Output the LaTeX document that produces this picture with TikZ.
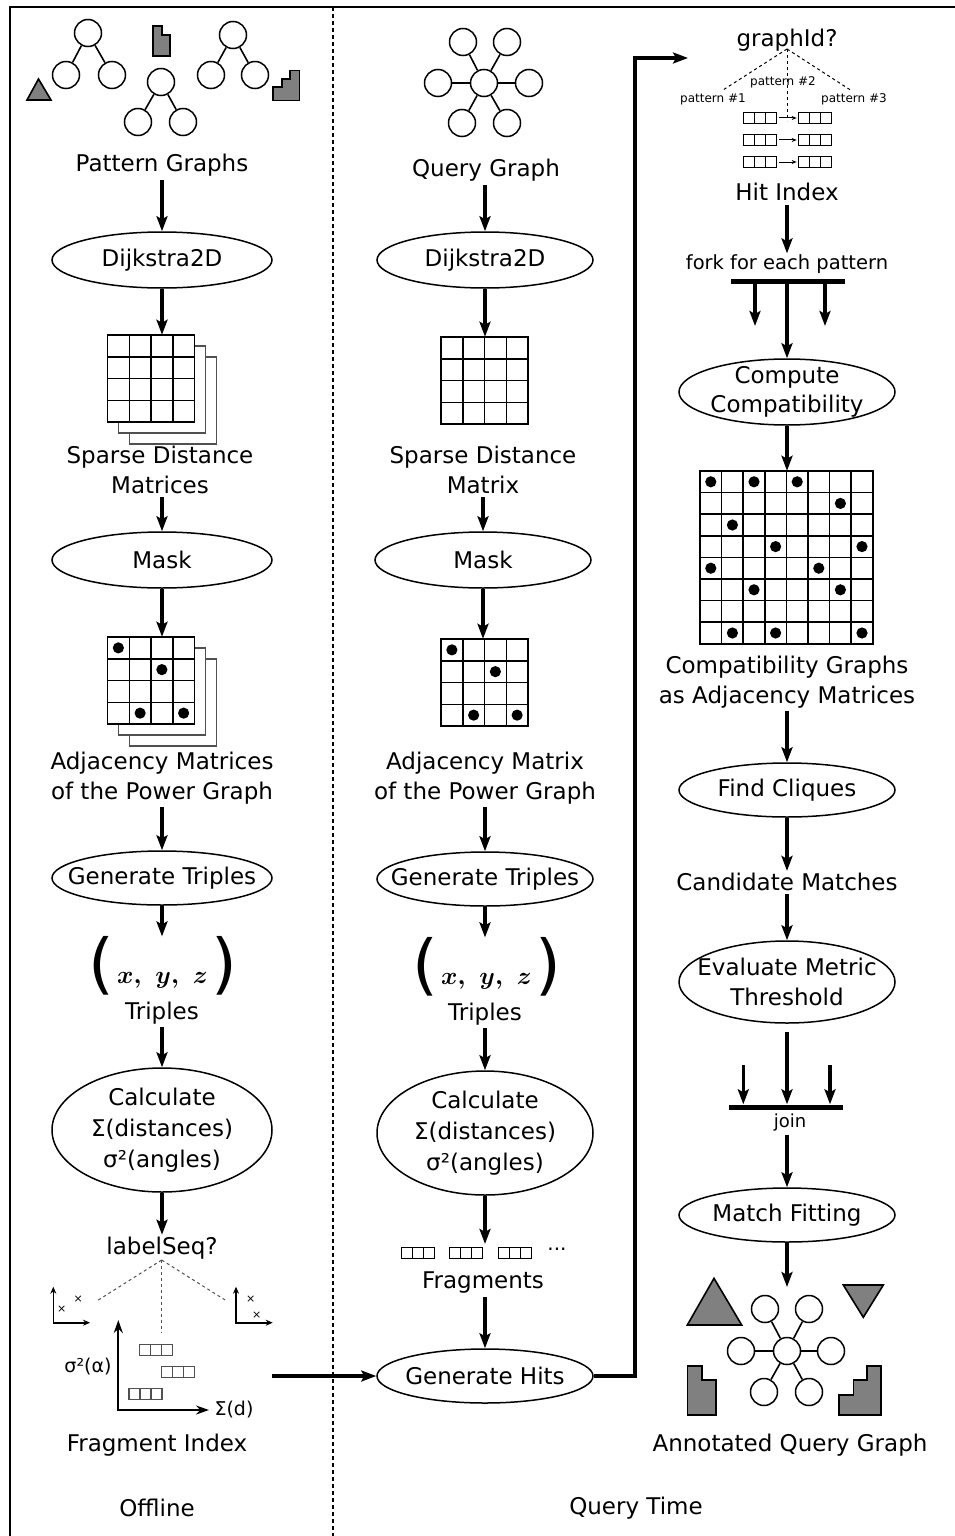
\documentclass[tikz,border=0pt]{standalone}
\usepackage{fontspec}
\setmainfont{DejaVu Sans}
\usetikzlibrary{arrows.meta,shapes.geometric,calc}
\definecolor{shapegray}{RGB}{128,128,128}
\definecolor{stackgray}{RGB}{80,80,80}
\newcommand\drawgrid[4]{% x0, y0, n, cell
  \fill[white] (#1,#2) rectangle ++(#3*#4,#3*#4);
  \pgfmathtruncatemacro\gridm{#3-1}
  \foreach \kk in {1,...,\gridm}{
    \draw[line width=1.5pt] (#1+\kk*#4,#2) -- ++(0,#3*#4);
    \draw[line width=1.5pt] (#1,#2+\kk*#4) -- ++(#3*#4,0);
  }
  \draw[line width=1.8pt] (#1,#2) rectangle ++(#3*#4,#3*#4);
}
\newcommand\griddots[4]{% x0, y0, cell, list col/row
  \foreach \cc/\rr in {#4}{\fill (#1+\cc*#3+0.5*#3, #2+\rr*#3+0.5*#3) circle[radius=5.6pt];}
}
\tikzset{
  lab/.style={font=\fontsize{23}{29.5}\selectfont, align=center, inner sep=1pt},
  proc/.style={ellipse, draw, line width=1.5pt, minimum width=220pt, minimum height=56pt, inner sep=0pt},
  arr/.style={line width=3.2pt, -{Stealth[length=15pt,width=11pt,inset=3pt]}},
  vtx/.style={circle, draw, line width=1.5pt, minimum size=27pt, inner sep=0pt, fill=white},
  edg/.style={line width=1.6pt},
  shp/.style={draw, line width=1.6pt, fill=shapegray, line join=miter},
  tribox/.style={draw, line width=1.1pt, minimum width=33pt, minimum height=11pt, inner sep=0pt,
    path picture={\foreach \ff in {0.3333,0.6667}{\draw[line width=1.1pt]
      ($(path picture bounding box.north west)!\ff!(path picture bounding box.north east)$) --
      ($(path picture bounding box.south west)!\ff!(path picture bounding box.south east)$);}}},
  barnode/.style={fill=black, inner sep=0pt, minimum height=5pt},
  dsh/.style={line width=1pt, dash pattern=on 3pt off 3pt},
  smallarr/.style={line width=1pt, -{Stealth[length=5pt,width=4pt]}},
  gbox/.style={minimum size=87pt, inner sep=0pt},
  trip/.style={inner sep=0pt},
}
\newcommand\triples{{\fontsize{66}{66}\selectfont(}\hspace{3pt}\raisebox{3pt}{\fontsize{48}{48}\selectfont\boldmath$x,$\hspace{14pt}$y,$\hspace{14pt}$z$}\hspace{4pt}{\fontsize{66}{66}\selectfont)}}
\begin{document}
\begin{tikzpicture}[x=1pt,y=-1pt]
\useasboundingbox (0,0) rectangle (955,1536);
\clip (0,0) rectangle (955,1536);
% frame and divider
\draw[line width=2pt] (10,1536) -- (10,7) -- (955,7);
\draw[line width=2pt, dash pattern=on 4pt off 3pt] (333,7) -- (333,1536);
\node[lab] (offline) at (157,1508) {Offline};
\node[lab] (qtime) at (636,1508) {Query Time};

% ================= LEFT COLUMN =================
\node[vtx] (t1a) at (88,33) {};
\node[vtx] (t1b) at (66,75) {};
\node[vtx] (t1c) at (112,75) {};
\node[vtx] (t2a) at (161,82) {};
\node[vtx] (t2b) at (138,122) {};
\node[vtx] (t2c) at (183,122) {};
\node[vtx] (t3a) at (233,35) {};
\node[vtx] (t3b) at (211,75) {};
\node[vtx] (t3c) at (255,75) {};
\draw[edg] (t1a) -- (t1b) (t1a) -- (t1c) (t2a) -- (t2b) (t2a) -- (t2c) (t3a) -- (t3b) (t3a) -- (t3c);
\draw[shp] (27,100) -- (51,100) -- (38.5,79) -- cycle;
\draw[shp] (153,26) -- (162,26) -- (162,35) -- (170,35) -- (170,56) -- (153,56) -- cycle;
\draw[shp] (273,100.7) -- (273,87.3) -- (281.7,87.3) -- (281.7,79) -- (290,79) -- (290,70.7) -- (299.3,70.7) -- (299.3,100.7) -- cycle;
\node[lab] (pgL) at (162,165) {Pattern Graphs};

\node[proc] (dijL) at (162,260) {};
\node[lab] at (dijL) {Dijkstra2D};

% stacked distance matrices
\foreach \o in {22,11}{\draw[line width=1.5pt, stackgray, fill=white] (107.5+\o,335+\o) rectangle ++(87,87);}
\drawgrid{107.5}{335}{4}{21.75}
\node[gbox] (sdmL) at (151,378.5) {};
\node[lab] (sdmLt) at (160,470) {Sparse Distance\\Matrices};

\node[proc] (maskL) at (162,560) {};
\node[lab] at (maskL) {Mask};

\foreach \o in {22,11}{\draw[line width=1.5pt, stackgray, fill=white] (107.5+\o,637+\o) rectangle ++(87,87);}
\drawgrid{107.5}{637}{4}{21.75}
\griddots{107.5}{637}{21.75}{0/0,2/1,1/3,3/3}
\node[gbox] (amL) at (151,680.5) {};
\node[lab] (amLt) at (162,778) {Adjacency Matrices\\of the Power Graph};

\node[proc, minimum height=54pt] (gtL) at (162,878) {};
\node[lab] at (gtL) {Generate Triples};

\node[trip] (xyzL) at (163,966) {\triples};
\node[lab] (trL) at (162,1013) {Triples};

\node[proc, minimum height=124pt] (calcL) at (162,1130) {};
\node[lab, font=\fontsize{23}{31}\selectfont] at (calcL) {Calculate\\Σ(distances)\\σ²(angles)};

\node[lab] (lsL) at (162,1248) {labelSeq?};
% fragment index
\draw[dsh, stackgray] (161.7,1260) -- (96.7,1301);
\draw[dsh, stackgray] (161.7,1260) -- (226.7,1301);
\draw[dsh, stackgray] (161.7,1260) -- (161.7,1333);
\draw[line width=1.6pt, {Stealth[length=7pt,width=6pt]}-{Stealth[length=7pt,width=6pt]}] (53.3,1286.7) -- (53.3,1322.7) -- (90,1322.7);
\draw[line width=1.6pt, {Stealth[length=7pt,width=6pt]}-{Stealth[length=7pt,width=6pt]}] (236,1286.7) -- (236,1322.7) -- (272.7,1322.7);
\node[font=\fontsize{11}{11}\selectfont, inner sep=0pt] (cx1) at (78.3,1299) {×};
\node[font=\fontsize{11}{11}\selectfont, inner sep=0pt] (cx2) at (61.7,1309) {×};
\node[font=\fontsize{11}{11}\selectfont, inner sep=0pt] (cx3) at (250.7,1299) {×};
\node[font=\fontsize{11}{11}\selectfont, inner sep=0pt] (cx4) at (256.7,1315) {×};
\draw[line width=2.2pt, {Stealth[length=13pt,width=9pt]}-{Stealth[length=13pt,width=9pt]}] (118.3,1320) -- (118.3,1410) -- (209,1410);
\node[font=\fontsize{19}{19}\selectfont, inner sep=0pt] (sal) at (88,1367) {σ²(α)};
\node[font=\fontsize{19}{19}\selectfont, inner sep=0pt] (sdl) at (234,1410) {Σ(d)};
\node[tribox, stackgray] (fb1) at (156.3,1350.3) {};
\node[tribox, stackgray] (fb2) at (178,1372.2) {};
\node[tribox, stackgray] (fb3) at (145.5,1393.7) {};
\node[lab] (fiL) at (157,1445) {Fragment Index};
\coordinate (fiout) at (272,1376);

\draw[arr, shorten <=3pt] (pgL.south) -- (pgL.south |- dijL.north);
\draw[arr] (dijL.south) -- (dijL.south |- sdmL.north);
\draw[arr, shorten <=2pt] (maskL.north |- sdmLt.south) -- (maskL.north);
\draw[arr] (maskL.south) -- (maskL.south |- amL.north);
\draw[arr, shorten <=2pt] (gtL.north |- amLt.south) -- (gtL.north);
\draw[arr] (gtL.south) -- (gtL.south |- xyzL.north);
\draw[arr, shorten <=2pt] (calcL.north |- trL.south) -- (calcL.north);
\draw[arr, shorten >=1pt] (calcL.south) -- (calcL.south |- lsL.north);

% ================= MIDDLE COLUMN =================
\node[vtx] (qc) at (484,83) {};
\node[vtx] (q1) at (463,42) {};
\node[vtx] (q2) at (507,42) {};
\node[vtx] (q3) at (438,83) {};
\node[vtx] (q4) at (529,83) {};
\node[vtx] (q5) at (462,123) {};
\node[vtx] (q6) at (507,123) {};
\foreach \q in {q1,q2,q3,q4,q5,q6}{\draw[edg] (qc) -- (\q);}
\node[lab] (qgM) at (486,170) {Query Graph};

\node[proc, minimum width=216pt] (dijM) at (485,260) {};
\node[lab] at (dijM) {Dijkstra2D};

\drawgrid{441}{337}{4}{21.75}
\node[gbox] (sdmM) at (484.5,380.5) {};
\node[lab] (sdmMt) at (483,470) {Sparse Distance\\Matrix};

\node[proc, minimum width=216pt] (maskM) at (483,560) {};
\node[lab] at (maskM) {Mask};

\drawgrid{441}{639}{4}{21.75}
\griddots{441}{639}{21.75}{0/0,2/1,1/3,3/3}
\node[gbox] (amM) at (484.5,682.5) {};
\node[lab] (amMt) at (485,778) {Adjacency Matrix\\of the Power Graph};

\node[proc, minimum width=216pt, minimum height=54pt] (gtM) at (485,879) {};
\node[lab] at (gtM) {Generate Triples};

\node[trip] (xyzM) at (487,967) {\triples};
\node[lab] (trM) at (485,1014) {Triples};

\node[proc, minimum width=216pt, minimum height=124pt] (calcM) at (485,1133) {};
\node[lab, font=\fontsize{23}{31}\selectfont] at (calcM) {Calculate\\Σ(distances)\\σ²(angles)};

\node[tribox] (fr1) at (418,1253) {};
\node[tribox] (fr2) at (466.3,1253) {};
\node[tribox] (fr3) at (514.7,1253) {};
\node[font=\fontsize{20}{20}\selectfont, inner sep=0pt] (frdots) at (557,1249) {...};
\node[lab] (frM) at (483,1282) {Fragments};

\node[proc, minimum width=216pt, minimum height=54pt] (ghM) at (485,1376) {};
\node[lab] at (ghM) {Generate Hits};

\draw[arr, shorten <=3pt] (dijM.north |- qgM.south) -- (dijM.north);
\draw[arr] (dijM.south) -- (dijM.south |- sdmM.north);
\draw[arr, shorten <=2pt] (maskM.north |- sdmMt.south) -- (maskM.north);
\draw[arr] (maskM.south) -- (maskM.south |- amM.north);
\draw[arr, shorten <=2pt] (gtM.north |- amMt.south) -- (gtM.north);
\draw[arr] (gtM.south) -- (gtM.south |- xyzM.north);
\draw[arr, shorten <=2pt] (calcM.north |- trM.south) -- (calcM.north);
\draw[arr, shorten >=3pt] (calcM.south) -- (calcM.south |- fr2.north);
\draw[arr, shorten <=3pt] (ghM.north |- frM.south) -- (ghM.north);
\draw[arr] (fiout) -- (ghM.west);

% ================= RIGHT COLUMN =================
\node[lab] (gid) at (787,40) {graphId?};
\coordinate (hitin) at (688,58);
\draw[arr] (ghM.east) -- (635,1376) |- (hitin);

\node[font=\fontsize{12}{12}\selectfont, inner sep=0pt] (p2) at (783,82) {pattern \#2};
\node[font=\fontsize{12}{12}\selectfont, inner sep=0pt] (p1) at (713,99) {pattern \#1};
\node[font=\fontsize{12}{12}\selectfont, inner sep=0pt] (p3) at (854,99) {pattern \#3};
\coordinate (gapex) at (787,49);
\draw[dsh] (gapex) -- (723,90);
\draw[dsh] (gapex) -- (852,91);
\draw[dsh] (gapex) -- (787,121);
\foreach \r/\yy in {1/118,2/140,3/162}{
  \node[tribox] (hl\r) at (760,\yy) {};
  \node[tribox] (hr\r) at (814.7,\yy) {};
  \draw[smallarr, shorten <=2pt, shorten >=1pt] (hl\r.east) -- (hr\r.west);
}
\node[lab] (hiR) at (787,192) {Hit Index};
\node[lab, font=\fontsize{19.5}{24}\selectfont] (forkR) at (787,264) {fork for each pattern};
\node[barnode, minimum width=114pt] (forkbar) at (787.5,281) {};
\coordinate (fk1) at (755,326);
\coordinate (fk2) at (825,326);
\node[proc, minimum width=216pt, minimum height=66pt] (ccR) at (787,392) {};
\node[lab] at (ccR) {Compute\\Compatibility};

\drawgrid{700}{471}{8}{21.6}
\griddots{700}{471}{21.6}{0/0,2/0,4/0,6/1,1/2,3/3,7/3,0/4,5/4,2/5,6/5,1/7,3/7,7/7}
\node[minimum size=172.8pt, inner sep=0pt] (cgR) at (786.4,557.4) {};
\node[lab] (cgRt) at (787,682) {Compatibility Graphs\\as Adjacency Matrices};

\node[proc, minimum width=216pt, minimum height=54pt] (fcR) at (787,790) {};
\node[lab] at (fcR) {Find Cliques};
\node[lab] (cmR) at (787,882) {Candidate Matches};
\node[proc, minimum width=216pt, minimum height=82pt] (emR) at (787,982) {};
\node[lab] at (emR) {Evaluate Metric\\Threshold};

\node[barnode, minimum width=114pt] (joinbar) at (786,1107) {};
\node[font=\fontsize{18}{18}\selectfont, inner sep=1pt] (joinR) at (790,1123) {join};
\coordinate (jn1) at (743.3,1065);
\coordinate (jn2) at (830,1065);

\node[proc, minimum width=216pt, minimum height=54pt] (mfR) at (787,1215) {};
\node[lab] at (mfR) {Match Fitting};
\coordinate (aqin) at (787,1287);

% annotated query graph
\draw[shp] (687.3,1325) -- (741.7,1325) -- (714,1278.3) -- cycle;
\draw[shp] (843.3,1285) -- (883.3,1285) -- (863.3,1317.3) -- cycle;
\draw[shp] (687.3,1366) -- (701.7,1366) -- (701.7,1380) -- (715.7,1380) -- (715.7,1415) -- (687.3,1415) -- cycle;
\draw[shp] (839,1415) -- (839,1395) -- (853.3,1395) -- (853.3,1380) -- (866.7,1380) -- (866.7,1366) -- (880.7,1366) -- (880.7,1415) -- cycle;
\node[vtx] (ac) at (787,1351) {};
\node[vtx] (a1) at (765,1309) {};
\node[vtx] (a2) at (809,1309) {};
\node[vtx] (a3) at (741,1351) {};
\node[vtx] (a4) at (831,1351) {};
\node[vtx] (a5) at (764,1392) {};
\node[vtx] (a6) at (809,1392) {};
\foreach \q in {a1,a2,a3,a4,a5,a6}{\draw[edg] (ac) -- (\q);}
\node[lab] (aqR) at (790,1445) {Annotated Query Graph};

\draw[arr, shorten <=3pt] (hiR.south) -- (hiR.south |- forkR.north);
\draw[arr] (forkbar.south -| ccR.north) -- (ccR.north);
\draw[arr] (forkbar.south -| fk1) -- (fk1);
\draw[arr] (forkbar.south -| fk2) -- (fk2);
\draw[arr] (ccR.south) -- (ccR.south |- cgR.north);
\draw[arr, shorten <=2pt] (fcR.north |- cgRt.south) -- (fcR.north);
\draw[arr, shorten >=1pt] (fcR.south) -- (fcR.south |- cmR.north);
\draw[arr, shorten <=2pt] (emR.north |- cmR.south) -- (emR.north);
\draw[arr, shorten <=8pt] (emR.south) -- (joinbar.north -| emR.south);
\draw[arr] (jn1) -- (joinbar.north -| jn1);
\draw[arr] (jn2) -- (joinbar.north -| jn2);
\draw[arr, shorten <=2pt] (mfR.north |- joinR.south) -- (mfR.north);
\draw[arr] (mfR.south) -- (aqin);
\end{tikzpicture}
\end{document}
